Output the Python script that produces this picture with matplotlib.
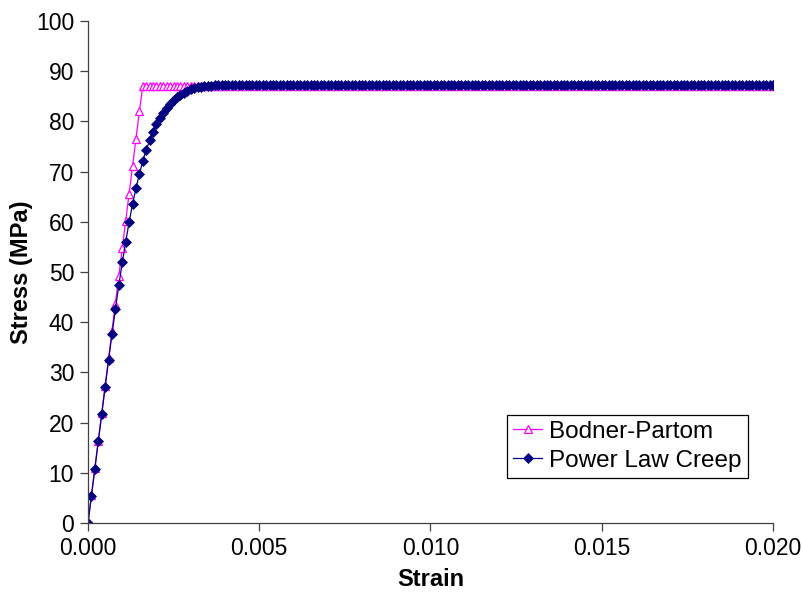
import numpy as np
import matplotlib
matplotlib.use("Agg")
from matplotlib import pyplot

# strain grid shared by both models (0 to 2 %, 201 samples)
strain = np.linspace(0.0, 0.020, 201)

# Bodner-Partom: elastic rise, then saturates at the flow stress
bodner_rise = [0.0, 5.5, 10.9, 16.4, 21.9, 27.3, 32.8, 38.3, 43.7, 49.2,
               54.7, 60.1, 65.6, 71.1, 76.5, 82.0, 87.1]
bodner_flat = 87.1

# power law creep: smooth knee towards the same plateau
power_rise = [0.0, 5.4, 10.8, 16.3, 21.7, 27.1, 32.4, 37.6, 42.6, 47.4,
              51.9, 56.0, 59.9, 63.5, 66.7, 69.5, 72.1, 74.3, 76.2, 77.9,
              79.4, 80.7, 81.7, 82.7, 83.5, 84.2, 84.8, 85.3, 85.7, 86.1,
              86.4, 86.6, 86.8, 86.9, 87.0, 87.1, 87.1, 87.2]
power_flat = 87.2

bodner = bodner_rise + [bodner_flat] * (len(strain) - len(bodner_rise))
power = power_rise + [power_flat] * (len(strain) - len(power_rise))

pyplot.rcParams["font.family"] = ["Liberation Sans", "DejaVu Sans"]

fig = pyplot.figure(figsize=(8.03, 5.96), dpi=100)
ax = fig.add_axes([88 / 803, 1 - 523 / 596, 685 / 803, 502 / 596])

ax.plot(strain, bodner, color="#FF00FF", lw=0.9, marker="^", ms=5.5,
        mfc="white", mec="#FF00FF", mew=0.9, label="Bodner-Partom")
ax.plot(strain, power, color="#000080", lw=0.9, marker="D", ms=4.8,
        mfc="#000080", mec="#000080", mew=0.5, label="Power Law Creep")

ax.set_xlim(0, 0.020)
ax.set_ylim(0, 100)
ax.set_xticks(np.arange(0, 0.0201, 0.005))
ax.set_yticks(np.arange(0, 101, 10))
ax.xaxis.set_major_formatter(matplotlib.ticker.FormatStrFormatter("%.3f"))

for side in ("top", "right"):
    ax.spines[side].set_visible(False)
for side in ("left", "bottom"):
    ax.spines[side].set_color("#404040")
    ax.spines[side].set_linewidth(0.9)
ax.tick_params(direction="out", length=6, width=0.9, color="#404040",
               labelsize=16.5, pad=4)

ax.set_xlabel("Strain", fontsize=17, fontweight="bold", labelpad=6)
ax.set_ylabel("Stress (MPa)", fontsize=17, fontweight="bold", labelpad=2)

leg = ax.legend(loc="lower right", bbox_to_anchor=(660 / 685, 45 / 502),
                borderaxespad=0, fontsize=17.5, numpoints=1, fancybox=False,
                framealpha=1, edgecolor="black", handlelength=1.2,
                handletextpad=0.3, labelspacing=0.3, borderpad=0.25)
leg.get_frame().set_linewidth(0.9)

fig.savefig("out.png", dpi=100)
